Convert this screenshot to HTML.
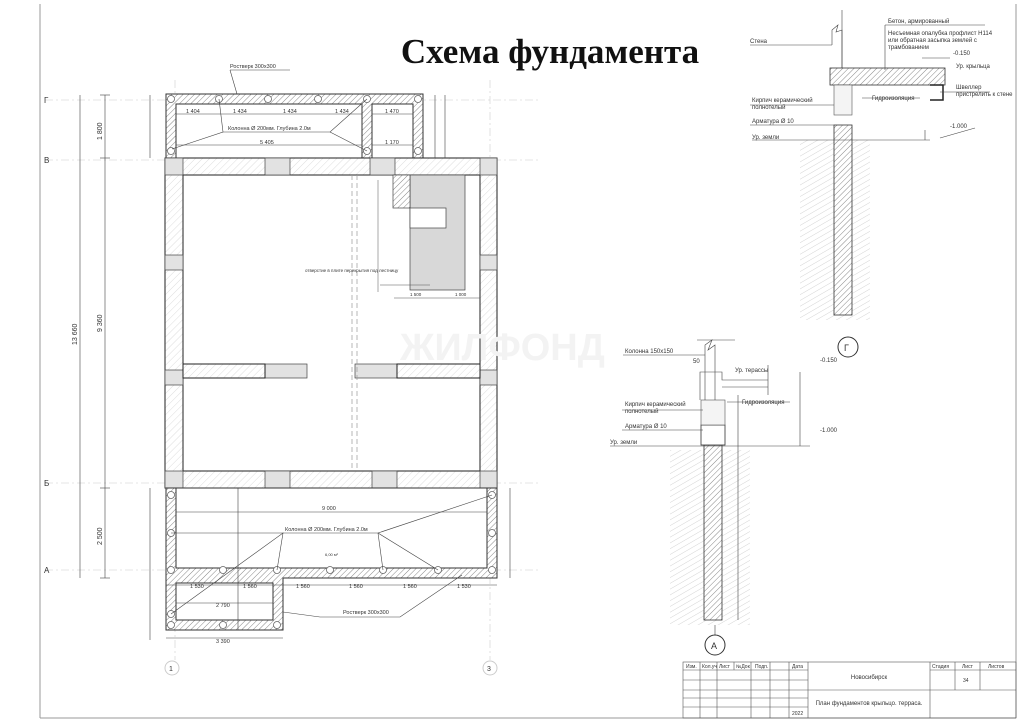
<!DOCTYPE html>
<html><head><meta charset="utf-8"><style>
html,body{margin:0;padding:0;background:#fff;}
svg{display:block;}
text{font-family:"Liberation Sans",sans-serif;fill:#333;}
</style></head><body>
<svg width="1024" height="724" viewBox="0 0 1024 724" xmlns="http://www.w3.org/2000/svg">
<defs>
<pattern id="h" width="4" height="4" patternUnits="userSpaceOnUse" patternTransform="rotate(45)">
<rect width="4" height="4" fill="#fff"/><line x1="0" y1="0" x2="0" y2="4" stroke="#888" stroke-width="1"/></pattern>
<pattern id="hl" width="5" height="5" patternUnits="userSpaceOnUse" patternTransform="rotate(45)">
<rect width="5" height="5" fill="#fff"/><line x1="0" y1="0" x2="0" y2="5" stroke="#ddd" stroke-width="1"/></pattern>
<pattern id="g" width="5" height="5" patternUnits="userSpaceOnUse" patternTransform="rotate(60)">
<rect width="5" height="5" fill="#fff"/><line x1="0" y1="0" x2="0" y2="5" stroke="#d4d4d4" stroke-width="1"/></pattern>
</defs>
<line x1="40" y1="4" x2="40" y2="718" stroke="#999" stroke-width="1"/>
<line x1="40" y1="718" x2="1016" y2="718" stroke="#999"/>
<line x1="1016" y1="4" x2="1016" y2="718" stroke="#999"/>
<g stroke="#ccc" stroke-width="0.6" stroke-dasharray="8 3 2 3">
<line x1="45" y1="100" x2="540" y2="100"/><line x1="45" y1="160" x2="540" y2="160"/>
<line x1="45" y1="483" x2="540" y2="483"/><line x1="45" y1="570" x2="540" y2="570"/>
<line x1="175" y1="80" x2="175" y2="660"/><line x1="490" y1="80" x2="490" y2="660"/>
</g>
<g font-size="8" fill="#888"><text x="44" y="103">Г</text><text x="44" y="163">В</text><text x="44" y="486">Б</text><text x="44" y="573">А</text></g>
<circle cx="172" cy="668" r="7" fill="none" stroke="#ccc"/><text x="169" y="671" font-size="7">1</text>
<circle cx="490" cy="668" r="7" fill="none" stroke="#ccc"/><text x="487" y="671" font-size="7">3</text>
<text x="550" y="63" text-anchor="middle" style="font-family:'Liberation Serif',serif;font-size:35px;font-weight:bold;fill:#111">Схема фундамента</text>
<path d="M166 94H423V158H413V104H372V158H362V104H176V158H166Z" fill="url(#h)" stroke="#333" stroke-width="1"/>
<g fill="#fff" stroke="#666" stroke-width="0.8"><circle cx="171" cy="99" r="3.5"/><circle cx="219" cy="99" r="3.5"/><circle cx="268" cy="99" r="3.5"/><circle cx="318" cy="99" r="3.5"/><circle cx="367" cy="99" r="3.5"/><circle cx="418" cy="99" r="3.5"/><circle cx="171" cy="151" r="3.5"/><circle cx="367" cy="151" r="3.5"/><circle cx="418" cy="151" r="3.5"/></g>
<g stroke="#444" stroke-width="0.6" fill="none">
<line x1="176" y1="114" x2="362" y2="114"/><line x1="372" y1="114" x2="413" y2="114"/>
<line x1="176" y1="145" x2="362" y2="145"/><line x1="372" y1="145" x2="413" y2="145"/>
<polyline points="172,149 223,132 219,99"/><polyline points="223,132 330,132 367,99"/><line x1="330" y1="132" x2="367" y2="151"/>
<line x1="230" y1="70" x2="237" y2="94"/><line x1="230" y1="70" x2="290" y2="70"/>
</g>
<g font-size="5.5"><text x="230" y="68">Ростверк 300х300</text>
<text x="228" y="130">Колонна Ø 200мм. Глубина 2.0м</text>
<text x="186" y="113">1 404</text><text x="233" y="113">1 434</text><text x="283" y="113">1 434</text><text x="335" y="113">1 434</text><text x="385" y="113">1 470</text>
<text x="260" y="144">5 405</text><text x="385" y="144">1 170</text></g>
<path d="M165 158H497V488H165ZM183 175V471H480V175Z" fill="url(#hl)" fill-rule="evenodd" stroke="#222" stroke-width="1"/>
<g fill="#e2e2e2" stroke="#444" stroke-width="0.7">
<rect x="165" y="158" width="18" height="17"/><rect x="265" y="158" width="25" height="17"/><rect x="370" y="158" width="25" height="17"/><rect x="480" y="158" width="17" height="17"/>
<rect x="165" y="471" width="18" height="17"/><rect x="265" y="471" width="25" height="17"/><rect x="372" y="471" width="25" height="17"/><rect x="480" y="471" width="17" height="17"/>
<rect x="165" y="255" width="18" height="15"/><rect x="480" y="255" width="17" height="15"/>
<rect x="165" y="370" width="18" height="15"/><rect x="480" y="370" width="17" height="15"/>
<rect x="265" y="364" width="42" height="14"/><rect x="355" y="364" width="42" height="14"/>
<rect x="410" y="175" width="55" height="115" fill="#d8d8d8"/>
</g>
<rect x="183" y="364" width="82" height="14" fill="url(#hl)" stroke="#222"/>
<rect x="397" y="364" width="83" height="14" fill="url(#hl)" stroke="#222"/>
<rect x="393" y="175" width="17" height="33" fill="url(#h)" stroke="#444" stroke-width="0.7"/>
<rect x="410" y="208" width="36" height="20" fill="#fff" stroke="#444" stroke-width="0.7"/>
<g stroke="#999" stroke-width="0.7" stroke-dasharray="5 3"><line x1="352" y1="175" x2="352" y2="471"/><line x1="357" y1="175" x2="357" y2="471"/></g>
<g stroke="#555" stroke-width="0.5"><line x1="378" y1="180" x2="378" y2="292"/><line x1="394" y1="298" x2="480" y2="298"/><line x1="380" y1="285" x2="430" y2="285"/></g>
<g font-size="4.5"><text x="305" y="272">отверстие в плите перекрытия под лестницу</text><text x="410" y="296">1 500</text><text x="455" y="296">1 000</text></g>
<text x="400" y="360" style="font-family:'Liberation Sans',sans-serif;font-size:38px;font-weight:bold;fill:#f3f3f3">ЖИЛФОНД</text>
<path d="M166 488H497V578H283V630H166Z M176 488V568H487V488Z M176 583V620H273V583Z" fill="url(#h)" fill-rule="evenodd" stroke="#333" stroke-width="1"/>
<g fill="#fff" stroke="#666" stroke-width="0.8"><circle cx="171" cy="495" r="3.5"/><circle cx="171" cy="533" r="3.5"/><circle cx="171" cy="570" r="3.5"/><circle cx="223" cy="570" r="3.5"/><circle cx="277" cy="570" r="3.5"/><circle cx="330" cy="570" r="3.5"/><circle cx="383" cy="570" r="3.5"/><circle cx="438" cy="570" r="3.5"/><circle cx="492" cy="570" r="3.5"/><circle cx="492" cy="533" r="3.5"/><circle cx="492" cy="495" r="3.5"/><circle cx="171" cy="625" r="3.5"/><circle cx="223" cy="625" r="3.5"/><circle cx="277" cy="625" r="3.5"/><circle cx="171" cy="614" r="3.5"/></g>
<g stroke="#444" stroke-width="0.6" fill="none">
<line x1="176" y1="512" x2="487" y2="512"/><line x1="171" y1="533" x2="283" y2="533"/>
<polyline points="171,614 283,533 277,570"/><polyline points="283,533 378,533 383,570"/><polyline points="378,533 492,495"/><line x1="378" y1="533" x2="438" y2="570"/>
<line x1="238" y1="488" x2="238" y2="630"/>
<line x1="166" y1="585" x2="497" y2="585"/><line x1="176" y1="603" x2="273" y2="603"/>
<polyline points="283,612 320,617 400,617 462,575"/>
<line x1="166" y1="638" x2="283" y2="638"/>
</g>
<g font-size="5.5"><text x="285" y="531">Колонна Ø 200мм. Глубина 2.0м</text><text x="322" y="510">9 000</text><text x="325" y="556" font-size="4">6,00 м²</text>
<text x="190" y="588">1 530</text><text x="243" y="588">1 560</text><text x="296" y="588">1 560</text><text x="349" y="588">1 560</text><text x="403" y="588">1 560</text><text x="457" y="588">1 530</text>
<text x="216" y="607">2 790</text><text x="343" y="614">Ростверк 300х300</text><text x="216" y="643">3 390</text></g>
<g stroke="#444" stroke-width="0.6"><line x1="105" y1="95" x2="105" y2="578"/><line x1="80" y1="95" x2="80" y2="578"/>
<line x1="100" y1="95" x2="110" y2="95"/><line x1="100" y1="158" x2="110" y2="158"/><line x1="100" y1="488" x2="110" y2="488"/><line x1="100" y1="578" x2="110" y2="578"/>
<line x1="150" y1="95" x2="150" y2="158"/><line x1="150" y1="488" x2="150" y2="640"/>
<line x1="510" y1="488" x2="510" y2="578"/><line x1="435" y1="95" x2="435" y2="158"/><line x1="445" y1="95" x2="445" y2="158"/></g>
<g font-size="7"><text transform="translate(102 140) rotate(-90)">1 800</text><text transform="translate(102 332) rotate(-90)">9 360</text><text transform="translate(102 545) rotate(-90)">2 500</text><text transform="translate(77 345) rotate(-90)">13 660</text></g>
<rect x="800" y="140" width="70" height="180" fill="url(#g)"/>
<rect x="834" y="125" width="18" height="190" fill="url(#h)" stroke="#333" stroke-width="0.8"/>
<rect x="830" y="68" width="115" height="17" fill="url(#h)" stroke="#333" stroke-width="0.8"/>
<rect x="834" y="85" width="18" height="30" fill="#f4f4f4" stroke="#555" stroke-width="0.6"/>
<path d="M930 85H943V100H930" fill="none" stroke="#222" stroke-width="1.5"/>
<g stroke="#444" stroke-width="0.6" fill="none">
<line x1="842" y1="10" x2="842" y2="68"/><path d="M832 45V30L838 25L836 32L842 30V68"/>
<line x1="750" y1="45" x2="832" y2="45"/><line x1="885" y1="25" x2="985" y2="25"/><line x1="885" y1="25" x2="885" y2="70"/>
<line x1="750" y1="105" x2="834" y2="105"/><line x1="750" y1="125" x2="834" y2="125"/><line x1="752" y1="140" x2="930" y2="140"/>
<line x1="862" y1="98" x2="920" y2="98"/><line x1="925" y1="130" x2="925" y2="140"/><line x1="940" y1="138" x2="975" y2="128"/><line x1="922" y1="58" x2="950" y2="58"/>
<line x1="940" y1="92" x2="990" y2="92"/>
</g>
<g font-size="6"><text x="750" y="43">Стена</text><text x="888" y="23">Бетон, армированный</text><text x="888" y="35">Несъемная опалубка профлист Н114</text><text x="888" y="42">или обратная засыпка землей с</text><text x="888" y="49">трамбованием</text>
<text x="953" y="55">-0.150</text><text x="956" y="68">Ур. крыльца</text><text x="956" y="89">Швеллер</text><text x="956" y="96">пристрелить к стене</text>
<text x="752" y="102">Кирпич керамический</text><text x="752" y="109">полнотелый</text><text x="872" y="100">Гидроизоляция</text><text x="752" y="123">Арматура Ø 10</text><text x="752" y="139">Ур. земли</text><text x="950" y="128">-1.000</text></g>
<circle cx="848" cy="347" r="10" fill="#fff" stroke="#333"/><text x="844" y="351" font-size="9">Г</text>
<rect x="670" y="450" width="80" height="175" fill="url(#g)"/>
<rect x="704" y="445" width="18" height="175" fill="url(#h)" stroke="#333" stroke-width="0.8"/>
<rect x="701" y="425" width="24" height="20" fill="#fff" stroke="#333" stroke-width="0.8"/>
<rect x="701" y="400" width="24" height="25" fill="#f4f4f4" stroke="#555" stroke-width="0.6"/>
<g stroke="#444" stroke-width="0.6" fill="none">
<path d="M705 400V345L712 340L708 350L715 345V400"/><line x1="697" y1="340" x2="735" y2="340"/>
<path d="M700 400V372H722V380H768"/><path d="M722 387H768"/><line x1="768" y1="365" x2="768" y2="395"/>
<line x1="623" y1="355" x2="705" y2="355"/><line x1="622" y1="410" x2="703" y2="410"/><line x1="622" y1="430" x2="703" y2="430"/><line x1="610" y1="446" x2="810" y2="446"/>
<line x1="727" y1="402" x2="790" y2="402"/><line x1="800" y1="372" x2="800" y2="446"/><line x1="738" y1="395" x2="738" y2="620"/>
<line x1="715" y1="625" x2="715" y2="635"/>
</g>
<g font-size="6"><text x="625" y="353">Колонна 150х150</text><text x="693" y="363">50</text><text x="735" y="372">Ур. терассы</text><text x="820" y="362">-0.150</text>
<text x="625" y="406">Кирпич керамический</text><text x="625" y="413">полнотелый</text><text x="742" y="404">Гидроизоляция</text><text x="625" y="428">Арматура Ø 10</text><text x="610" y="444">Ур. земли</text><text x="820" y="432">-1.000</text></g>
<circle cx="715" cy="645" r="10" fill="#fff" stroke="#333"/><text x="711" y="649" font-size="9">А</text>
<g stroke="#555" stroke-width="0.6" fill="none">
<rect x="683" y="662" width="333" height="56"/>
<line x1="700" y1="662" x2="700" y2="718"/><line x1="717" y1="662" x2="717" y2="718"/><line x1="734" y1="662" x2="734" y2="670"/><line x1="751" y1="662" x2="751" y2="718"/><line x1="770" y1="662" x2="770" y2="718"/><line x1="789" y1="662" x2="789" y2="718"/><line x1="808" y1="662" x2="808" y2="718"/>
<line x1="683" y1="670" x2="808" y2="670"/><line x1="683" y1="680" x2="808" y2="680"/><line x1="683" y1="690" x2="1016" y2="690"/><line x1="683" y1="698" x2="808" y2="698"/><line x1="683" y1="707" x2="808" y2="707"/>
<line x1="930" y1="662" x2="930" y2="690"/><line x1="955" y1="662" x2="955" y2="690"/><line x1="980" y1="662" x2="980" y2="690"/><line x1="930" y1="670" x2="1016" y2="670"/><line x1="930" y1="690" x2="930" y2="718"/>
</g>
<g font-size="5"><text x="686" y="668">Изм.</text><text x="702" y="668">Кол.уч</text><text x="719" y="668">Лист</text><text x="736" y="668">№Док</text><text x="755" y="668">Подп.</text><text x="792" y="668">Дата</text>
<text x="932" y="668">Стадия</text><text x="962" y="668">Лист</text><text x="988" y="668">Листов</text><text x="963" y="682">34</text><text x="792" y="715">2022</text></g>
<text x="869" y="679" font-size="6" text-anchor="middle">Новосибирск</text>
<text x="869" y="705" font-size="6" text-anchor="middle">План фундаментов крыльцо. терраса.</text>
</svg>
</body></html>
